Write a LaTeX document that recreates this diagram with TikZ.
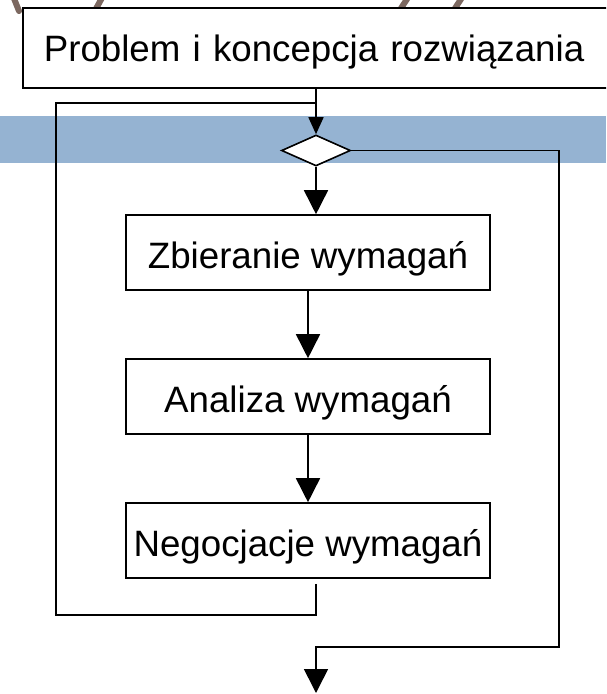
\documentclass[tikz,border=0pt]{standalone}
\usepackage{fontspec}
\setmainfont{Liberation Sans}
\usetikzlibrary{arrows.meta,shapes.geometric}

\definecolor{bandblue}{RGB}{149,179,210}
\definecolor{ribbon}{RGB}{124,104,96}

\tikzset{
  box/.style={draw, line width=1.6pt, fill=white, minimum width=364pt,
    minimum height=75pt, inner sep=0pt,
    font=\fontsize{36.7}{44}\selectfont, text height=31pt, text depth=0pt},
  flow/.style={line width=1.6pt},
  loopline/.style={line width=1.4pt},
  tipbig/.style={-{Triangle[width=24pt,length=24pt]}},
  tipsmall/.style={-{Triangle[width=15pt,length=17pt]}},
  stroke/.style={ribbon, line width=6pt, line cap=round},
}

\begin{document}
\begin{tikzpicture}[x=1pt, y=-1pt]
  \useasboundingbox (0,0) rectangle (606,694);
  \clip (0,0) rectangle (606,694);

  % background band and decorative strokes
  \fill[bandblue] (0,116) rectangle (606,163);
  \draw[stroke] (13,-4) -- (19,11);
  \draw[stroke] (103,-4) -- (92,16);
  \draw[stroke] (409,-4) -- (396,16);
  \draw[stroke] (463,-4) -- (450,16);

  % header box
  \node[box, anchor=north west, minimum width=600pt, minimum height=80pt,
        text height=28pt, inner xsep=21pt, text width=560pt, align=left]
        (problem) at (22,7) {Problem i koncepcja rozwiązania};

  % decision diamond
  \node[draw, diamond, fill=white, line width=1.6pt, aspect=2.2,
        minimum width=69pt, minimum height=31pt, inner sep=0pt]
        (gate) at (316,150.5) {};

  % process steps
  \node[box] (gather)    at (308,252.5) {Zbieranie wymagań};
  \node[box] (analyse)   at (308,396.5) {Analiza wymagań};
  \node[box] (negotiate) at (308,540.5) {Negocjacje wymagań};

  % helper points for the loops
  \coordinate (loopbottom) at (56,615);
  \coordinate (looptop)    at (56,103);
  \coordinate (exitcorner) at (559,647);
  \coordinate (exit)       at (316,693);

  % connectors
  \draw[flow, tipsmall] (gate.north |- problem.south) -- (gate.north);
  \draw[flow, tipbig] (gate.south) -- (gate.south |- gather.north);
  \draw[flow, tipbig] (gather.south) -- (analyse.north);
  \draw[flow, tipbig] (analyse.south) -- (negotiate.north);

  \draw[loopline, shorten <=5pt] (negotiate.south -| gate.south) |- (loopbottom)
        -- (looptop) -- (looptop -| gate.north);
  \draw[flow, tipbig] (gate.east) -| (exitcorner) -| (exit);
\end{tikzpicture}
\end{document}
